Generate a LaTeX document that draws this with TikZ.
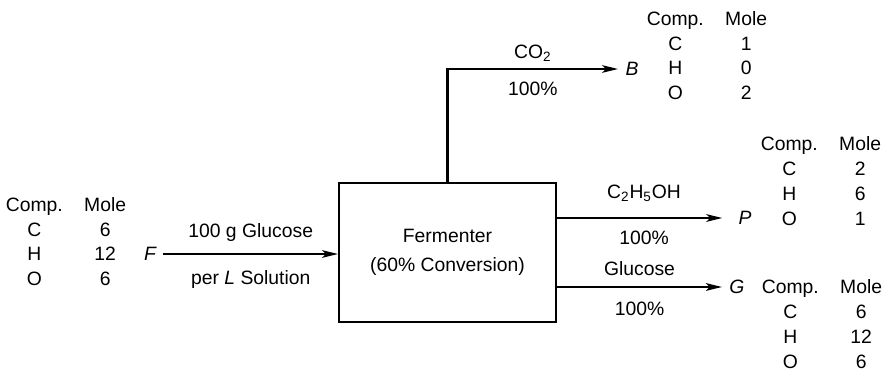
\documentclass[tikz,border=0pt]{standalone}
\usepackage{fontspec}
\setmainfont{Liberation Sans}
\usetikzlibrary{arrows.meta,positioning}

\newcommand{\comptab}[3]{\begin{tabular}{@{}c@{\hspace{12.2pt}}c@{}}
  Comp. & Mole\\ C & #1\\ H & #2\\ O & #3\end{tabular}}

\begin{document}
\begin{tikzpicture}[
    x=0.02cm, y=-0.02cm,
    every node/.style={font=\fontsize{11}{14.2}\selectfont},
    box/.style={rectangle, draw, line width=1pt, minimum width=4.34cm,
                minimum height=2.78cm, align=center, inner sep=0pt},
    flow/.style={line width=1.6pt, -{Stealth[length=9pt, width=4.2pt, inset=2pt]}},
    sl/.style={inner sep=4pt, font=\fontsize{11}{14.2}\selectfont\itshape},
    lbl/.style={inner sep=0pt, text height=8pt, text depth=0pt},
    tab/.style={inner sep=0pt},
  ]
  \useasboundingbox (0,0) rectangle (891,374);
  \node[box] (fer) at (447.5, 252.5) {Fermenter\\[2.2pt](60\% Conversion)};
  \node[sl] (F) at (150, 254) {F};
  \node[sl] (B) at (632, 69) {B};
  \node[sl] (P) at (745, 218) {P};
  \node[sl] (G) at (737, 287) {G};
  \node[tab] (tF) at (66, 243.5) {\comptab{6}{12}{6}};
  \node[tab] (tB) at (707, 57.5) {\comptab{1}{0}{2}};
  \node[tab] (tP) at (821, 183) {\comptab{2}{6}{1}};
  \node[tab] (tG) at (822, 326) {\comptab{6}{12}{6}};
  \draw[flow] (F) -- node[lbl, above=8.5pt] {100 g Glucose}
                      node[lbl, below=8.5pt] {per \textit{L} Solution} (F -| fer.west);
  \draw[flow] (fer.north) |- node[lbl, pos=0.75, above=5.1pt] {CO\textsubscript{2}}
                             node[lbl, pos=0.75, below=6.2pt] {100\%} (B);
  \draw[flow, shorten >=5pt] (fer.east |- P) -- node[lbl, above=10.2pt] {C\textsubscript{2}H\textsubscript{5}OH}
                                               node[lbl, below=6.2pt] {100\%} (P);
  \draw[flow] (fer.east |- G) -- node[lbl, above=5.6pt] {Glucose}
                                 node[lbl, below=7.3pt] {100\%} (G);
\end{tikzpicture}
\end{document}
